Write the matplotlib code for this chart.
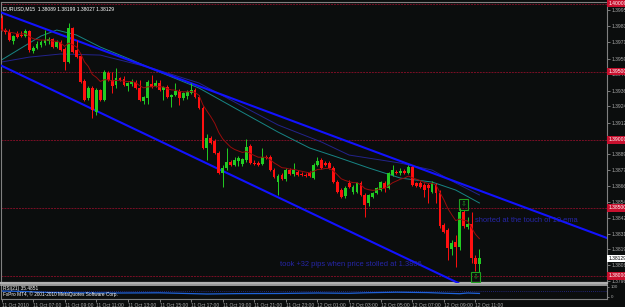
import numpy as np
import matplotlib
matplotlib.use("Agg")
import matplotlib.pyplot as plt
from matplotlib.patches import Rectangle

plt.rcParams['font.family'] = ['Liberation Sans', 'DejaVu Sans']

# EURUSD M15, from 11 Oct 2010 05:00 to 12 Oct 2010 11:15 (one value per bar)
open_ = [1.39894, 1.39806, 1.39791, 1.39725, 1.39776, 1.39769, 1.39762, 1.39798, 1.39652, 1.39674,
         1.39696, 1.39710, 1.39725, 1.39740, 1.39681, 1.39718, 1.39666, 1.39571, 1.39820, 1.39659,
         1.39615, 1.39431, 1.39307, 1.39380, 1.39204, 1.39365, 1.39292, 1.39490, 1.39439, 1.39402,
         1.39453, 1.39446, 1.39395, 1.39409, 1.39424, 1.39380, 1.39285, 1.39307, 1.39409, 1.39395,
         1.39417, 1.39365, 1.39387, 1.39314, 1.39329, 1.39358, 1.39307, 1.39321, 1.39343, 1.39365,
         1.39314, 1.39233, 1.38940, 1.39013, 1.38991, 1.38903, 1.38756, 1.38793, 1.38837, 1.38815,
         1.38844, 1.38822, 1.38851, 1.38954, 1.38829, 1.38829, 1.38822, 1.38873, 1.38873, 1.38778,
         1.38690, 1.38741, 1.38712, 1.38778, 1.38749, 1.38763, 1.38749, 1.38741, 1.38756, 1.38719,
         1.38815, 1.38851, 1.38829, 1.38829, 1.38793, 1.38690, 1.38631, 1.38587, 1.38683, 1.38617,
         1.38617, 1.38683, 1.38595, 1.38536, 1.38580, 1.38609, 1.38631, 1.38683, 1.38646, 1.38741,
         1.38763, 1.38756, 1.38771, 1.38756, 1.38800, 1.38683, 1.38683, 1.38668, 1.38668, 1.38617,
         1.38668, 1.38609, 1.38374, 1.38338, 1.38198, 1.38250, 1.38213, 1.38470, 1.38360, 1.38382,
         1.38132, 1.38089]
high = [1.39916, 1.39820, 1.39813, 1.39769, 1.39798, 1.39798, 1.39813, 1.39806, 1.39688, 1.39725,
        1.39732, 1.39806, 1.39754, 1.39747, 1.39732, 1.39732, 1.39681, 1.39857, 1.39828, 1.39732,
        1.39630, 1.39446, 1.39395, 1.39395, 1.39380, 1.39373, 1.39512, 1.39505, 1.39497, 1.39527,
        1.39461, 1.39468, 1.39424, 1.39446, 1.39439, 1.39439, 1.39321, 1.39439, 1.39475, 1.39439,
        1.39439, 1.39395, 1.39402, 1.39336, 1.39417, 1.39373, 1.39351, 1.39365, 1.39417, 1.39380,
        1.39329, 1.39248, 1.39042, 1.39028, 1.39006, 1.38918, 1.38815, 1.38940, 1.38851, 1.38873,
        1.38881, 1.38866, 1.39006, 1.38969, 1.38851, 1.38844, 1.38940, 1.38888, 1.38888, 1.38793,
        1.38749, 1.38756, 1.38793, 1.38793, 1.38829, 1.38778, 1.38763, 1.38756, 1.38771, 1.38829,
        1.38873, 1.38866, 1.38844, 1.38844, 1.38807, 1.38705, 1.38646, 1.38661, 1.38705, 1.38668,
        1.38690, 1.38697, 1.38609, 1.38602, 1.38617, 1.38653, 1.38697, 1.38697, 1.38763, 1.38815,
        1.38778, 1.38793, 1.38785, 1.38815, 1.38807, 1.38690, 1.38697, 1.38683, 1.38683, 1.38697,
        1.38683, 1.38631, 1.38389, 1.38352, 1.38264, 1.38301, 1.38499, 1.38484, 1.38433, 1.38470,
        1.38154, 1.38199]
low = [1.39798, 1.39776, 1.39725, 1.39703, 1.39747, 1.39754, 1.39754, 1.39644, 1.39637, 1.39666,
       1.39681, 1.39696, 1.39703, 1.39674, 1.39674, 1.39652, 1.39512, 1.39563, 1.39637, 1.39600,
       1.39417, 1.39285, 1.39292, 1.39160, 1.39182, 1.39285, 1.39285, 1.39431, 1.39343, 1.39380,
       1.39431, 1.39395, 1.39358, 1.39395, 1.39373, 1.39285, 1.39262, 1.39262, 1.39380, 1.39387,
       1.39358, 1.39292, 1.39307, 1.39240, 1.39321, 1.39255, 1.39292, 1.39299, 1.39336, 1.39307,
       1.39226, 1.38932, 1.38851, 1.38969, 1.38895, 1.38749, 1.38653, 1.38778, 1.38807, 1.38807,
       1.38807, 1.38807, 1.38837, 1.38822, 1.38815, 1.38807, 1.38815, 1.38859, 1.38771, 1.38719,
       1.38595, 1.38705, 1.38697, 1.38741, 1.38734, 1.38734, 1.38734, 1.38727, 1.38727, 1.38712,
       1.38807, 1.38785, 1.38807, 1.38785, 1.38683, 1.38609, 1.38573, 1.38573, 1.38646, 1.38602,
       1.38609, 1.38587, 1.38433, 1.38514, 1.38573, 1.38602, 1.38624, 1.38617, 1.38639, 1.38734,
       1.38749, 1.38741, 1.38749, 1.38749, 1.38661, 1.38653, 1.38646, 1.38580, 1.38536, 1.38609,
       1.38536, 1.38352, 1.38316, 1.38117, 1.38154, 1.38066, 1.38191, 1.38352, 1.38345, 1.38095,
       1.38037, 1.38027]
close = [1.39806, 1.39791, 1.39732, 1.39762, 1.39754, 1.39762, 1.39798, 1.39659, 1.39674, 1.39703,
         1.39718, 1.39732, 1.39740, 1.39681, 1.39718, 1.39659, 1.39571, 1.39820, 1.39644, 1.39607,
         1.39424, 1.39292, 1.39380, 1.39218, 1.39365, 1.39292, 1.39497, 1.39439, 1.39395, 1.39453,
         1.39439, 1.39402, 1.39417, 1.39431, 1.39380, 1.39292, 1.39314, 1.39424, 1.39387, 1.39417,
         1.39365, 1.39387, 1.39314, 1.39329, 1.39358, 1.39307, 1.39343, 1.39351, 1.39365, 1.39314,
         1.39233, 1.38940, 1.39013, 1.38976, 1.38903, 1.38756, 1.38793, 1.38837, 1.38815, 1.38851,
         1.38866, 1.38859, 1.38947, 1.38829, 1.38822, 1.38815, 1.38873, 1.38866, 1.38778, 1.38727,
         1.38734, 1.38712, 1.38778, 1.38749, 1.38778, 1.38741, 1.38741, 1.38734, 1.38734, 1.38815,
         1.38844, 1.38793, 1.38815, 1.38793, 1.38690, 1.38617, 1.38580, 1.38646, 1.38653, 1.38653,
         1.38683, 1.38595, 1.38521, 1.38595, 1.38609, 1.38646, 1.38690, 1.38646, 1.38756, 1.38778,
         1.38756, 1.38771, 1.38756, 1.38800, 1.38668, 1.38661, 1.38653, 1.38631, 1.38646, 1.38683,
         1.38609, 1.38367, 1.38323, 1.38206, 1.38242, 1.38213, 1.38470, 1.38367, 1.38382, 1.38132,
         1.38088, 1.38129]

# slower moving averages at some bars
ma_teal_bars = [0, 5, 10, 14, 19, 25, 33, 40, 50, 60, 70, 78, 85, 93, 101, 109, 115, 121]
ma_teal = [1.39586, 1.39674, 1.39762, 1.39806, 1.39769, 1.39681, 1.39586, 1.39497, 1.39380,
           1.39218, 1.39057, 1.38940, 1.38873, 1.38793, 1.38719, 1.38690, 1.38631, 1.38536]
ma_navy_bars = [0, 7, 15, 25, 38, 50, 60, 70, 81, 88, 101, 109, 115, 121]
ma_navy = [1.39571, 1.39607, 1.39630, 1.39622, 1.39527, 1.39417, 1.39262, 1.39109, 1.38984,
           1.38888, 1.38829, 1.38778, 1.38683, 1.38595]

# RSI(21) read at some bars
rsi_bars = [0, 6, 12, 20, 30, 40, 46, 52, 60, 70, 80, 88, 92, 100, 104, 108, 112, 116, 118, 121]
rsi_vals = [60, 55, 45, 42, 40, 42, 36, 30, 34, 35, 40, 37, 42, 48, 46, 44, 38, 33, 40, 35.49]

round_levels = [1.4000, 1.3950, 1.3900, 1.3850, 1.3800]
price_ticks = [1.39954, 1.39836, 1.39715, 1.39595, 1.39480, 1.39360, 1.39245, 1.39125, 1.39010,
               1.38895, 1.38775, 1.38660, 1.38540, 1.38425, 1.38310, 1.38195, 1.38080, 1.37965]
time_labels = ['11 Oct 2010', '11 Oct 07:00', '11 Oct 09:00', '11 Oct 11:00', '11 Oct 13:00',
               '11 Oct 15:00', '11 Oct 17:00', '11 Oct 19:00', '11 Oct 21:00', '11 Oct 23:00',
               '12 Oct 01:00', '12 Oct 03:00', '12 Oct 05:00', '12 Oct 07:00', '12 Oct 09:00',
               '12 Oct 11:00']

# channel drawn by hand: (bar, price) pairs
upper_line = [(-0.4, 1.39938), (153.3, 1.38279)]
lower_line = [(-0.4, 1.39549), (115.6, 1.37949)]

BG = '#0b0d0d'
GREEN = '#22cc22'
RED = '#ff1010'
GREY = '#a8a8a8'

o = np.array(open_); h = np.array(high); l = np.array(low); c = np.array(close)
x = np.arange(len(c))
up = c >= o

# 10 period EMA of close
ema = [c[0]]
for v in c[1:]:
    ema.append(ema[-1] + 2 / 11 * (v - ema[-1]))

W, H = 625, 307
fig = plt.figure(figsize=(W / 100, H / 100), dpi=100, facecolor=BG)
ax = fig.add_axes([1 / W, (H - 283) / H, 606 / W, 281 / H], facecolor=BG)
ax2 = fig.add_axes([1 / W, (H - 299) / H, 606 / W, 14 / H], facecolor=BG)

xl = (-0.13, 153.3)
ax.set_xlim(*xl)
ax.set_ylim(1.379486, 1.400117)

for lv in round_levels:
    ax.axhline(lv, color='#7a0f25', lw=0.7, ls=(0, (2, 1)), zorder=1)

ax.plot(ma_navy_bars, ma_navy, color='#23238c', lw=0.7, zorder=2)
ax.plot(ma_teal_bars, ma_teal, color='#178585', lw=0.7, zorder=2)

ax.axline(upper_line[0], upper_line[1], color='#1212ff', lw=1.5, zorder=3)
ax.axline(lower_line[0], lower_line[1], color='#1212ff', lw=1.5, zorder=3)

ax.vlines(x[up], l[up], h[up], color=GREEN, lw=0.7, zorder=4)
ax.vlines(x[~up], l[~up], h[~up], color=RED, lw=0.7, zorder=4)
body = np.maximum(np.abs(c - o), 0.00004)
ax.bar(x[up], body[up], bottom=o[up], width=0.72, color=GREEN, lw=0, zorder=5)
ax.bar(x[~up], body[~up], bottom=c[~up], width=0.72, color=RED, lw=0, zorder=5)

ax.plot(x, ema, color='#960c0c', lw=0.7, zorder=6)

# trade signal boxes
ax.add_patch(Rectangle((115.8, 1.38485), 2.3, 0.0008, fill=False, ec='#1fa01f', lw=0.8, zorder=7))
ax.text(116.95, 1.38525, '⇩', color='#1fa01f', fontsize=5, ha='center', va='center', zorder=7)
ax.add_patch(Rectangle((118.9, 1.37956), 2.2, 0.00073, fill=False, ec='#1fa01f', lw=0.8, zorder=7))
ax.text(120.0, 1.37992, '⇩', color='#1fa01f', fontsize=5, ha='center', va='center', zorder=7)

ax.text(119.9, 1.38404, 'shorted at the touch of 10 ema', color='#2626a8', fontsize=5.4,
        ha='left', va='center', zorder=8)
ax.text(70.6, 1.38081, 'took +32 pips when price stolled at 1.3806', color='#2626a8',
        fontsize=5.4, ha='left', va='center', zorder=8)

ax.text(0.004, 0.985, 'EURUSD,M15  1.38089 1.38199 1.38027 1.38129', transform=ax.transAxes,
        color='white', fontsize=3.6, ha='left', va='top', zorder=9)

# price scale on the right
ax.yaxis.tick_right()
ax.set_yticks(price_ticks)
ax.set_yticklabels([f'{p:.5f}' for p in price_ticks])
ax.tick_params(axis='y', colors=GREY, labelsize=3.6, length=2, width=0.5, pad=1)
ax.set_xticks([])
for lv in round_levels:
    ax.text(1.002, lv, f'{lv:.5f}', transform=ax.get_yaxis_transform(), color='white',
            fontsize=3.6, ha='left', va='center', clip_on=False, zorder=10,
            bbox=dict(boxstyle='square,pad=0.25', fc='#c8102e', ec='none'))
ax.text(1.002, close[-1], f'{close[-1]:.5f}', transform=ax.get_yaxis_transform(), color='black',
        fontsize=3.6, ha='left', va='center', clip_on=False, zorder=10,
        bbox=dict(boxstyle='square,pad=0.25', fc='white', ec='none'))

for s in ['left', 'top', 'right']:
    ax.spines[s].set_color('#808080')
    ax.spines[s].set_linewidth(0.8)
ax.spines['bottom'].set_color('#b0b0b0')
ax.spines['bottom'].set_linewidth(1.6)

# RSI window
ax2.set_xlim(*xl)
ax2.set_ylim(-20, 120)
ax2.axhline(60, color='#2a2a9a', lw=0.6, ls=(0, (1, 1.5)))
ax2.plot(rsi_bars, rsi_vals, color='#1e62d8', lw=0.9)
ax2.text(0.004, 0.95, 'RSI(21) 35.4851', transform=ax2.transAxes, color='white', fontsize=3.4,
         ha='left', va='top')
ax2.text(0.004, 0.35, 'FxPro MT4, © 2001-2010 MetaQuotes Software Corp.', transform=ax2.transAxes,
         color='white', fontsize=3.4, ha='left', va='center')
ax2.yaxis.tick_right()
ax2.set_yticks([100, 0])
ax2.set_yticklabels(['100', '0'])
ax2.tick_params(axis='y', colors=GREY, labelsize=3.2, length=1.5, width=0.5, pad=1)
ax2.set_xticks(np.arange(0, 121, 8))
ax2.set_xticklabels(time_labels, ha='left')
ax2.tick_params(axis='x', colors=GREY, labelsize=3.6, length=2, width=0.5, pad=1)
for s in ax2.spines.values():
    s.set_color('#808080')
    s.set_linewidth(0.8)
ax2.spines['top'].set_color('#b0b0b0')
ax2.spines['top'].set_linewidth(1.2)

fig.savefig('out.png', dpi=100, facecolor=BG)
